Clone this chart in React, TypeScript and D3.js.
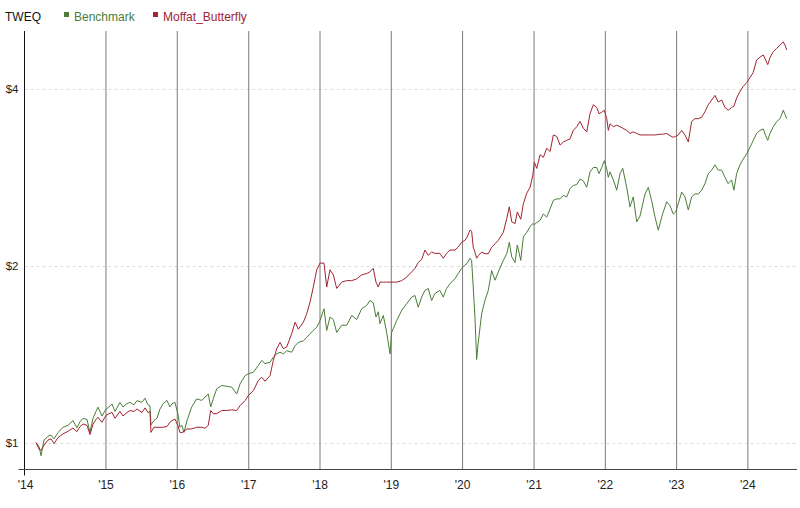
import React from 'react';
import * as d3 from 'd3';

// decimal-year dates of the sampled observations
const dates = [
  2014.019, 2014.061, 2014.089, 2014.131, 2014.187, 2014.229, 2014.271, 2014.327, 2014.397, 2014.467,
  2014.537, 2014.593, 2014.636, 2014.678, 2014.734, 2014.776, 2014.818, 2014.860, 2014.888, 2014.944,
  2015.000, 2015.042, 2015.084, 2015.126, 2015.196, 2015.238, 2015.294, 2015.336, 2015.393, 2015.435,
  2015.505, 2015.547, 2015.589, 2015.617, 2015.631, 2015.673, 2015.715, 2015.757, 2015.799, 2015.855,
  2015.897, 2015.925, 2015.967, 2016.009, 2016.037, 2016.065, 2016.094, 2016.136, 2016.201, 2016.272,
  2016.342, 2016.388, 2016.434, 2016.468, 2016.504, 2016.552, 2016.622, 2016.692, 2016.762, 2016.832,
  2016.879, 2016.949, 2016.995, 2017.065, 2017.135, 2017.183, 2017.229, 2017.299, 2017.345, 2017.393,
  2017.439, 2017.486, 2017.533, 2017.603, 2017.650, 2017.696, 2017.766, 2017.814, 2017.860, 2017.906,
  2017.954, 2018.000, 2018.056, 2018.094, 2018.140, 2018.187, 2018.234, 2018.304, 2018.375, 2018.445,
  2018.515, 2018.585, 2018.655, 2018.701, 2018.747, 2018.785, 2018.818, 2018.841, 2018.888, 2018.935,
  2018.982, 2019.005, 2019.075, 2019.146, 2019.216, 2019.286, 2019.332, 2019.378, 2019.426, 2019.472,
  2019.518, 2019.566, 2019.612, 2019.682, 2019.729, 2019.776, 2019.823, 2019.893, 2019.939, 2019.987,
  2020.033, 2020.065, 2020.103, 2020.127, 2020.149, 2020.173, 2020.197, 2020.219, 2020.267, 2020.313,
  2020.360, 2020.407, 2020.454, 2020.500, 2020.570, 2020.618, 2020.654, 2020.688, 2020.734, 2020.766,
  2020.814, 2020.850, 2020.898, 2020.944, 2020.982, 2021.005, 2021.038, 2021.084, 2021.131, 2021.178,
  2021.225, 2021.271, 2021.319, 2021.365, 2021.411, 2021.459, 2021.505, 2021.551, 2021.599, 2021.645,
  2021.691, 2021.739, 2021.785, 2021.832, 2021.879, 2021.912, 2021.949, 2021.986, 2022.020, 2022.042,
  2022.066, 2022.112, 2022.160, 2022.206, 2022.244, 2022.300, 2022.346, 2022.392, 2022.440, 2022.486,
  2022.557, 2022.603, 2022.650, 2022.697, 2022.743, 2022.791, 2022.813, 2022.861, 2022.907, 2022.953,
  2022.987, 2023.023, 2023.071, 2023.117, 2023.164, 2023.211, 2023.257, 2023.304, 2023.351, 2023.398,
  2023.444, 2023.492, 2023.538, 2023.584, 2023.632, 2023.678, 2023.724, 2023.772, 2023.804, 2023.842,
  2023.888, 2023.935, 2023.982, 2024.029, 2024.075, 2024.122, 2024.169, 2024.215, 2024.249, 2024.277,
  2024.309, 2024.355, 2024.403, 2024.449, 2024.495, 2024.519, 2024.543,
];

const benchmark = [
  1.00, 0.985, 0.95, 1.01, 1.025, 1.03, 1.015, 1.04, 1.062, 1.07,
  1.09, 1.06, 1.085, 1.10, 1.095, 1.041, 1.10, 1.13, 1.149, 1.11,
  1.14, 1.15, 1.164, 1.13, 1.171, 1.15, 1.165, 1.171, 1.16, 1.179,
  1.171, 1.19, 1.16, 1.155, 1.072, 1.09, 1.10, 1.14, 1.164, 1.18,
  1.15, 1.164, 1.171, 1.12, 1.062, 1.07, 1.041, 1.09, 1.149, 1.187,
  1.18, 1.195, 1.21, 1.15, 1.187, 1.235, 1.251, 1.247, 1.243, 1.21,
  1.259, 1.30, 1.31, 1.318, 1.353, 1.38, 1.363, 1.37, 1.398, 1.416,
  1.425, 1.416, 1.434, 1.425, 1.462, 1.481, 1.49, 1.51, 1.533, 1.552,
  1.572, 1.613, 1.69, 1.552, 1.636, 1.62, 1.54, 1.584, 1.584, 1.646,
  1.62, 1.69, 1.712, 1.746, 1.73, 1.636, 1.67, 1.594, 1.646, 1.54,
  1.416, 1.54, 1.613, 1.679, 1.724, 1.769, 1.78, 1.70, 1.769, 1.816,
  1.83, 1.746, 1.794, 1.816, 1.769, 1.83, 1.865, 1.90, 1.94, 1.98,
  2.007, 2.02, 2.06, 2.04, 1.84, 1.636, 1.385, 1.48, 1.658, 1.746,
  1.816, 1.963, 1.89, 1.953, 2.043, 2.097, 2.193, 2.07, 2.026, 2.17,
  2.043, 2.24, 2.28, 2.33, 2.36, 2.35, 2.37, 2.39, 2.45, 2.42,
  2.50, 2.585, 2.60, 2.60, 2.635, 2.62, 2.707, 2.74, 2.75, 2.81,
  2.79, 2.72, 2.89, 2.94, 2.94, 2.87, 2.94, 3.02, 2.92, 2.83,
  2.89, 2.80, 2.69, 2.87, 2.93, 2.72, 2.52, 2.62, 2.376, 2.43,
  2.65, 2.72, 2.58, 2.42, 2.30, 2.42, 2.47, 2.57, 2.53, 2.45,
  2.47, 2.55, 2.67, 2.62, 2.49, 2.62, 2.65, 2.65, 2.69, 2.76,
  2.87, 2.91, 2.97, 2.91, 2.91, 2.83, 2.76, 2.80, 2.69, 2.87,
  2.97, 3.04, 3.10, 3.18, 3.27, 3.36, 3.40, 3.42, 3.33, 3.27,
  3.36, 3.45, 3.52, 3.56, 3.68, 3.62, 3.56,
];

const moffat = [
  1.00, 0.975, 0.97, 0.99, 1.01, 1.015, 0.996, 1.02, 1.035, 1.045,
  1.059, 1.044, 1.065, 1.076, 1.07, 1.032, 1.075, 1.095, 1.104, 1.083,
  1.112, 1.12, 1.126, 1.10, 1.13, 1.11, 1.125, 1.134, 1.13, 1.141,
  1.125, 1.146, 1.125, 1.13, 1.041, 1.062, 1.062, 1.062, 1.062, 1.065,
  1.083, 1.09, 1.097, 1.07, 1.041, 1.04, 1.045, 1.055, 1.055, 1.062,
  1.062, 1.058, 1.07, 1.134, 1.12, 1.12, 1.134, 1.134, 1.137, 1.134,
  1.156, 1.179, 1.203, 1.226, 1.276, 1.292, 1.272, 1.30, 1.38, 1.445,
  1.481, 1.445, 1.455, 1.533, 1.603, 1.56, 1.603, 1.658, 1.735, 1.84,
  1.969, 2.021, 2.021, 1.84, 1.969, 1.93, 1.83, 1.876, 1.887, 1.887,
  1.90, 1.93, 1.94, 1.953, 1.98, 1.876, 1.84, 1.876, 1.876, 1.876,
  1.876, 1.876, 1.876, 1.887, 1.913, 1.953, 1.98, 2.026, 2.05, 2.127,
  2.084, 2.11, 2.10, 2.10, 2.06, 2.10, 2.127, 2.127, 2.152, 2.193,
  2.21, 2.24, 2.30, 2.29, 2.152, 2.11, 2.06, 2.08, 2.11, 2.097,
  2.097, 2.152, 2.18, 2.21, 2.28, 2.407, 2.52, 2.376, 2.36, 2.47,
  2.40, 2.55, 2.658, 2.72, 2.85, 3.0, 2.93, 3.09, 3.06, 3.17,
  3.13, 3.34, 3.32, 3.21, 3.25, 3.27, 3.29, 3.40, 3.45, 3.52,
  3.43, 3.38, 3.63, 3.76, 3.72, 3.63, 3.65, 3.68, 3.56, 3.40,
  3.49, 3.45, 3.47, 3.45, 3.43, 3.40, 3.36, 3.38, 3.36, 3.34,
  3.34, 3.34, 3.34, 3.34, 3.345, 3.35, 3.35, 3.36, 3.33, 3.31,
  3.32, 3.34, 3.40, 3.34, 3.25, 3.52, 3.56, 3.56, 3.58, 3.66,
  3.76, 3.83, 3.90, 3.80, 3.83, 3.72, 3.68, 3.72, 3.74, 3.86,
  3.96, 4.04, 4.10, 4.18, 4.27, 4.48, 4.53, 4.57, 4.48, 4.40,
  4.52, 4.63, 4.69, 4.75, 4.81, 4.75, 4.66,
];

const seriesNames = ['Benchmark', 'Moffat_Butterfly'];
const titleLabel = 'TWEQ';
const yTickValues = [1, 2, 4];
const yTickLabels = ['$1', '$2', '$4'];
const xTickYears = [2015, 2016, 2017, 2018, 2019, 2020, 2021, 2022, 2023, 2024];
const xTickLabels = ["'15", "'16", "'17", "'18", "'19", "'20", "'21", "'22", "'23", "'24"];
const firstTickLabel = "'14";

const GREEN = '#4a7d37';
const RED = '#a3232f';
const FONT = '"Liberation Sans", Arial, Helvetica, sans-serif';

function yearToDate(t: number): Date {
  const y = Math.floor(t);
  const s = new Date(y, 0, 1).getTime();
  const e = new Date(y + 1, 0, 1).getTime();
  return new Date(s + (t - y) * (e - s));
}

export default function App() {
  const W = 800;
  const H = 508;
  const left = 24.5;
  const right = 797;
  const top = 31;
  const bottom = 469.5;

  const x = d3
    .scaleTime()
    .domain([yearToDate(2013.857), yearToDate(2024.687)])
    .range([left, right]);
  const y = d3.scaleLog().domain([0.9, 5.02]).range([bottom, top]);

  const pts = dates.map((d, i) => ({ date: yearToDate(d), b: benchmark[i], m: moffat[i] }));
  const lineB = d3
    .line<{ date: Date; b: number; m: number }>()
    .x((d) => x(d.date))
    .y((d) => y(d.b));
  const lineM = d3
    .line<{ date: Date; b: number; m: number }>()
    .x((d) => x(d.date))
    .y((d) => y(d.m));

  return (
    <svg
      width={W}
      height={H}
      style={{ position: 'absolute', left: 0, top: 0, background: '#fff' }}
      fontFamily={FONT}
    >
      {/* horizontal dashed grid */}
      {yTickValues.map((v) => (
        <line
          key={'hg' + v}
          x1={left}
          x2={right}
          y1={Math.round(y(v)) + 0.5}
          y2={Math.round(y(v)) + 0.5}
          stroke="#dcdcdc"
          strokeDasharray="3,3"
        />
      ))}
      {/* vertical year grid */}
      {xTickYears.map((yr) => (
        <line
          key={'vg' + yr}
          x1={x(new Date(yr, 0, 1))}
          x2={x(new Date(yr, 0, 1))}
          y1={top}
          y2={bottom}
          stroke="#7a7a7a"
          strokeWidth={1}
        />
      ))}

      {/* series */}
      <path d={lineB(pts) || ''} fill="none" stroke={GREEN} strokeWidth={1} />
      <path d={lineM(pts) || ''} fill="none" stroke={RED} strokeWidth={1} />

      {/* axes */}
      <line x1={left} x2={left} y1={top} y2={bottom + 6} stroke="#111" strokeWidth={1} />
      <line x1={left - 6} x2={right} y1={bottom} y2={bottom} stroke="#444" strokeWidth={1} />

      {/* y labels */}
      {yTickValues.map((v, i) => (
        <text
          key={'yl' + v}
          x={18.5}
          y={y(v)}
          dy="0.35em"
          textAnchor="end"
          fontSize={11.5}
          fill="#222"
        >
          {yTickLabels[i]}
        </text>
      ))}

      {/* x labels */}
      <text x={left + 1} y={bottom + 19} textAnchor="middle" fontSize={12} fill="#222">
        {firstTickLabel}
      </text>
      {xTickYears.map((yr, i) => (
        <text
          key={'xl' + yr}
          x={x(new Date(yr, 0, 1))}
          y={bottom + 19}
          textAnchor="middle"
          fontSize={12}
          fill="#222"
        >
          {xTickLabels[i]}
        </text>
      ))}

      {/* legend */}
      <text x={5} y={20.5} fontSize={12} fill="#111">
        {titleLabel}
      </text>
      <rect x={64} y={12} width={5} height={5} fill={GREEN} />
      <text x={74} y={20.5} fontSize={12} fill={GREEN}>
        {seriesNames[0]}
      </text>
      <rect x={153} y={12} width={5} height={5} fill={RED} />
      <text x={163} y={20.5} fontSize={12} fill={RED}>
        {seriesNames[1]}
      </text>
    </svg>
  );
}
